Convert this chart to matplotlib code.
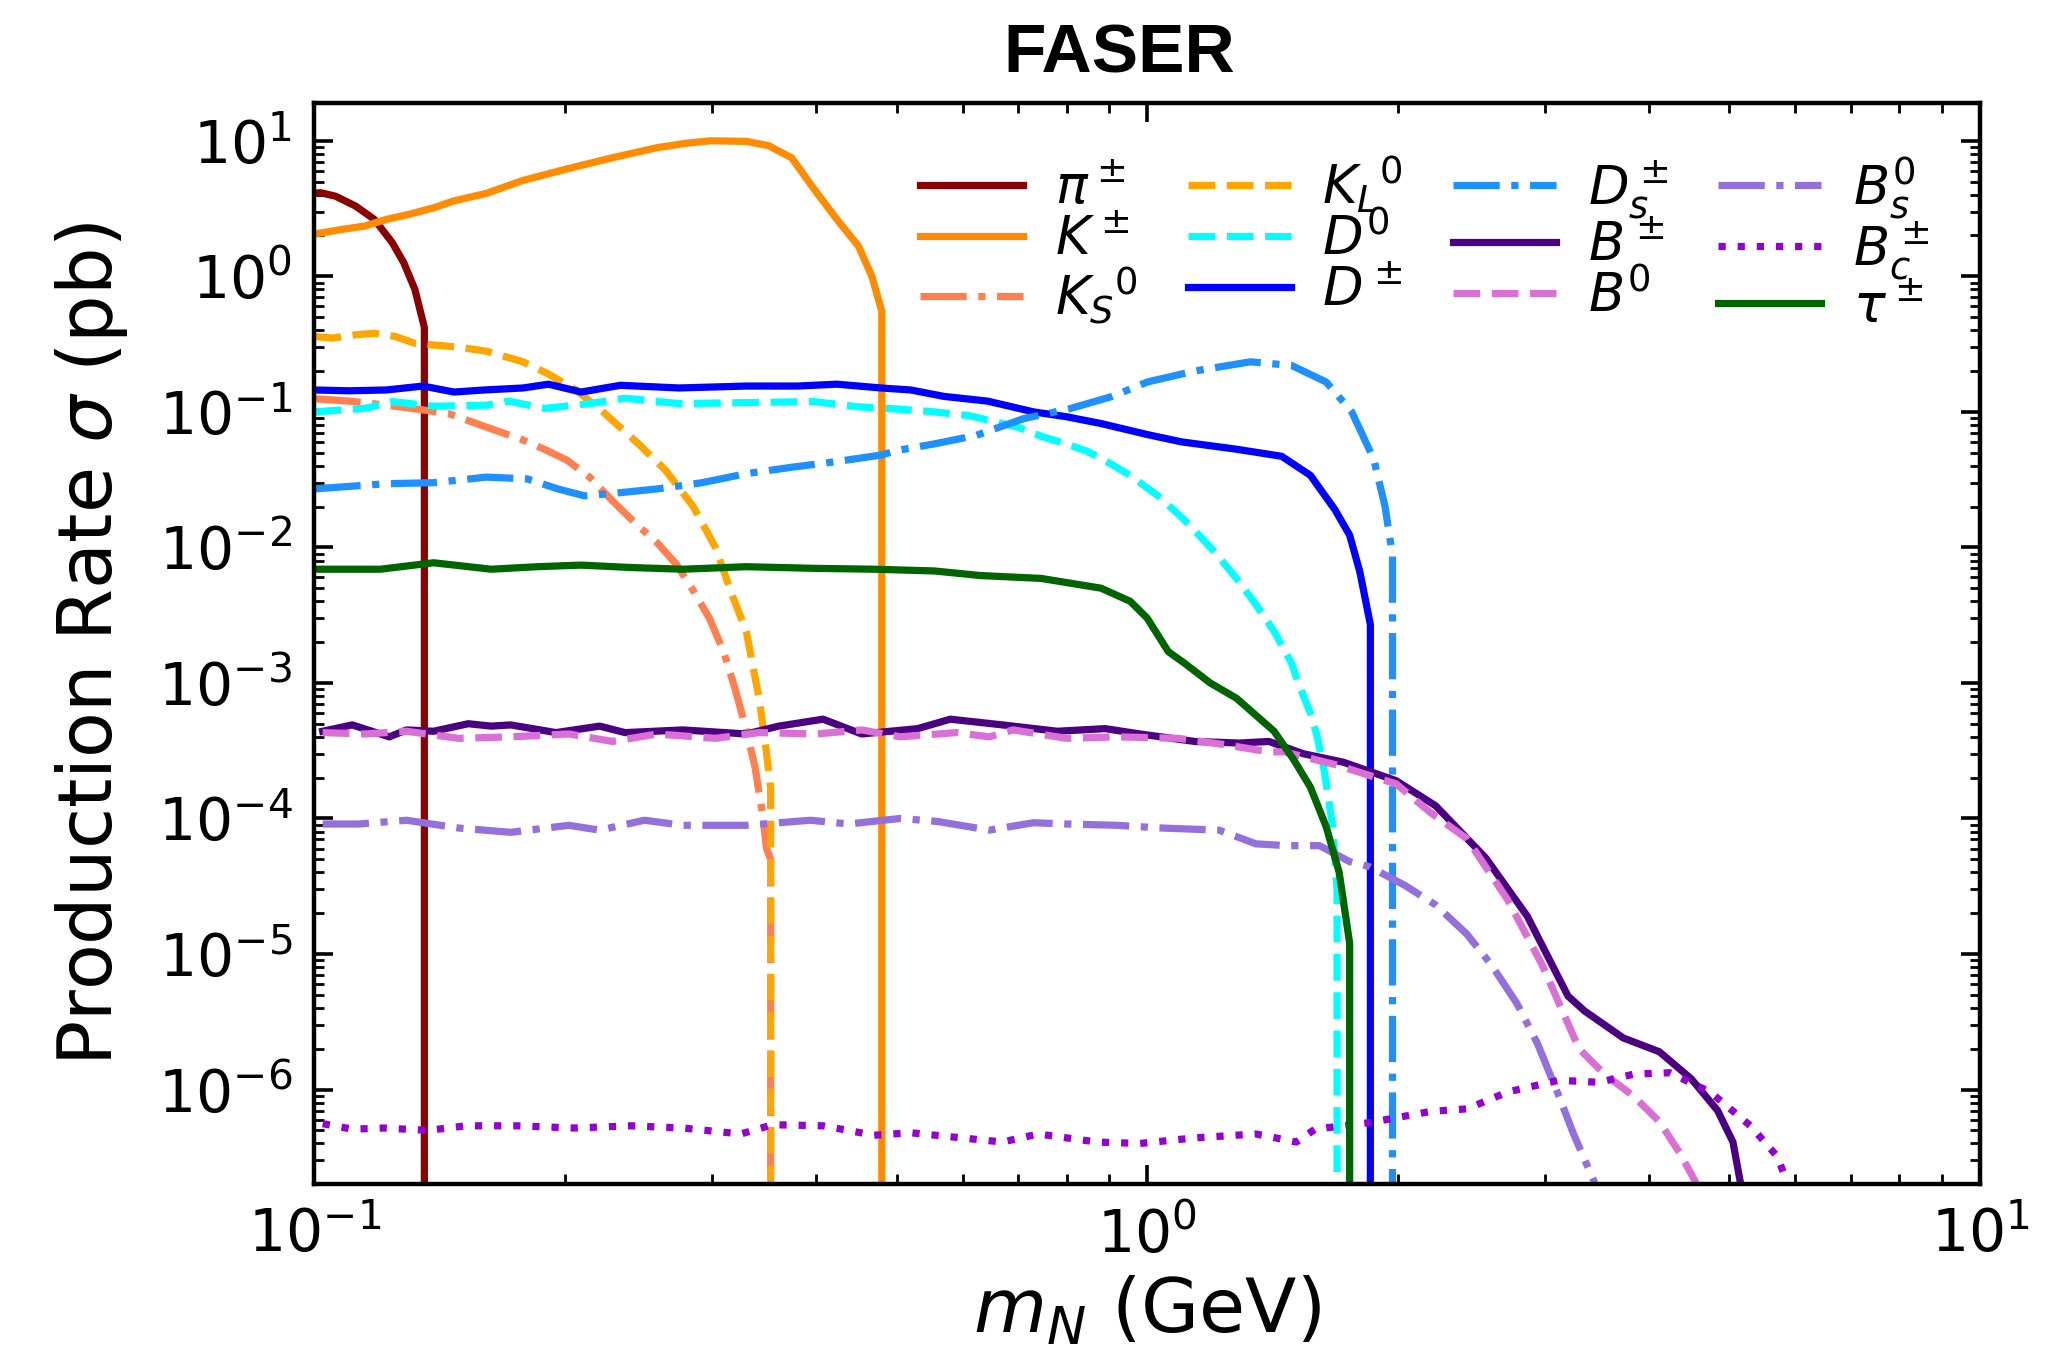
import matplotlib
matplotlib.use("Agg")
import matplotlib.pyplot as plt

# production rate sigma (pb) vs HNL mass m_N (GeV)
# a trailing 1e-9 point makes the vertical drop at the kinematic edge
pi_x = [0.100, 0.1016, 0.106, 0.112, 0.118, 0.124, 0.128, 0.132, 0.1355, 0.1355]
pi_y = [4.1, 4.14, 3.9, 3.3, 2.63, 1.77, 1.26, 0.80, 0.42, 1e-9]

k_x = [0.100, 0.108, 0.115, 0.122, 0.130, 0.139, 0.147, 0.161, 0.178, 0.201, 0.228,
       0.258, 0.280, 0.299, 0.330, 0.351, 0.374, 0.398, 0.424, 0.450, 0.467, 0.480, 0.480]
k_y = [2.05, 2.22, 2.35, 2.63, 2.87, 3.2, 3.6, 4.1, 5.1, 6.2, 7.5,
       8.9, 9.6, 10.0, 9.9, 9.2, 7.5, 4.4, 2.63, 1.67, 1.0, 0.55, 1e-9]

ks_x = [0.100, 0.110, 0.122, 0.134, 0.145, 0.161, 0.178, 0.190, 0.201, 0.214, 0.228, 0.243,
        0.258, 0.272, 0.285, 0.298, 0.310, 0.320, 0.330, 0.338, 0.345, 0.349, 0.353, 0.353]
ks_y = [0.125, 0.120, 0.112, 0.104, 0.097, 0.077, 0.062, 0.052, 0.044, 0.033, 0.022, 0.015,
        0.0108, 0.0075, 0.0048, 0.0030, 0.0017, 9e-4, 4.5e-4, 2.4e-4, 1.1e-4, 6e-5, 5e-5, 1e-9]

kl_x = [0.100, 0.105, 0.112, 0.118, 0.125, 0.132, 0.149, 0.161, 0.178, 0.191, 0.206, 0.222,
        0.245, 0.264, 0.285, 0.303, 0.318, 0.330, 0.342, 0.348, 0.353, 0.353]
kl_y = [0.36, 0.35, 0.37, 0.38, 0.36, 0.32, 0.30, 0.28, 0.234, 0.19, 0.145, 0.10,
        0.058, 0.037, 0.020, 0.010, 0.0043, 0.0024, 7.6e-4, 3.5e-4, 1.66e-4, 1e-9]

d0_x = [0.100, 0.115, 0.124, 0.139, 0.161, 0.171, 0.189, 0.214, 0.236, 0.274, 0.330, 0.398,
        0.450, 0.500, 0.555, 0.610, 0.643, 0.700, 0.746, 0.800, 0.848, 0.900, 0.954, 1.03,
        1.108, 1.20, 1.28, 1.35, 1.42, 1.49, 1.52, 1.57, 1.60, 1.63, 1.67, 1.69, 1.69]
d0_y = [0.100, 0.106, 0.119, 0.110, 0.112, 0.120, 0.106, 0.115, 0.126, 0.115, 0.117, 0.119,
        0.109, 0.105, 0.100, 0.094, 0.087, 0.077, 0.066, 0.058, 0.051, 0.042, 0.034, 0.024,
        0.016, 0.0095, 0.0059, 0.0038, 0.0024, 0.0014, 9.8e-4, 6e-4, 4e-4, 2.3e-4, 8.7e-5, 3e-5, 1e-9]

dpm_x = [0.100, 0.110, 0.122, 0.135, 0.147, 0.160, 0.178, 0.191, 0.209, 0.233, 0.274, 0.330,
         0.380, 0.424, 0.479, 0.520, 0.570, 0.643, 0.730, 0.800, 0.880, 1.00, 1.10, 1.28,
         1.45, 1.57, 1.68, 1.75, 1.80, 1.853, 1.853]
dpm_y = [0.145, 0.143, 0.145, 0.155, 0.140, 0.145, 0.150, 0.160, 0.140, 0.157, 0.150, 0.155,
         0.155, 0.160, 0.150, 0.145, 0.130, 0.120, 0.100, 0.092, 0.082, 0.068, 0.060, 0.053,
         0.047, 0.034, 0.019, 0.0123, 0.0066, 0.0027, 1e-9]

ds_x = [0.100, 0.122, 0.139, 0.161, 0.180, 0.196, 0.211, 0.228, 0.258, 0.292, 0.330, 0.374,
        0.424, 0.479, 0.502, 0.555, 0.623, 0.710, 0.805, 0.908, 1.00, 1.14, 1.33, 1.49,
        1.64, 1.76, 1.87, 1.93, 1.97, 1.97]
ds_y = [0.027, 0.0295, 0.030, 0.033, 0.032, 0.027, 0.024, 0.025, 0.027, 0.030, 0.035, 0.039,
        0.043, 0.048, 0.052, 0.058, 0.067, 0.089, 0.105, 0.130, 0.166, 0.200, 0.234, 0.220,
        0.166, 0.100, 0.045, 0.020, 0.0087, 1e-9]

bpm_x = [0.1023, 0.111, 0.123, 0.129, 0.139, 0.153, 0.163, 0.172, 0.195, 0.220, 0.236, 0.277,
         0.330, 0.361, 0.408, 0.454, 0.530, 0.580, 0.670, 0.780, 0.890, 0.980, 1.14, 1.29,
         1.40, 1.54, 1.72, 1.99, 2.22, 2.55, 2.86, 3.20, 3.35, 3.73, 4.12, 4.50, 4.84,
         5.05, 5.16, 5.25]
bpm_y = [4.4e-4, 4.9e-4, 4.0e-4, 4.5e-4, 4.4e-4, 5.0e-4, 4.8e-4, 4.9e-4, 4.3e-4, 4.8e-4, 4.3e-4, 4.5e-4,
         4.2e-4, 4.8e-4, 5.4e-4, 4.2e-4, 4.6e-4, 5.4e-4, 4.9e-4, 4.4e-4, 4.6e-4, 4.2e-4, 3.7e-4, 3.6e-4,
         3.7e-4, 3.0e-4, 2.6e-4, 1.9e-4, 1.24e-4, 5.1e-5, 1.9e-5, 4.9e-6, 3.8e-6, 2.4e-6, 1.9e-6, 1.2e-6, 7e-7,
         4.1e-7, 2e-7, 1e-7]

b0_x = [0.1023, 0.115, 0.129, 0.149, 0.172, 0.202, 0.228, 0.258, 0.303, 0.342, 0.401, 0.454,
        0.505, 0.590, 0.646, 0.690, 0.800, 0.920, 1.09, 1.24, 1.40, 1.46, 1.68, 1.99, 2.19,
        2.42, 2.71, 2.98, 3.30, 3.54, 3.84, 4.12, 4.36, 4.55, 4.65]
b0_y = [4.3e-4, 4.2e-4, 4.4e-4, 3.9e-4, 4.0e-4, 4.2e-4, 3.7e-4, 4.2e-4, 3.9e-4, 4.3e-4, 4.2e-4, 4.5e-4,
        4.0e-4, 4.3e-4, 4.0e-4, 4.5e-4, 3.9e-4, 4.0e-4, 3.9e-4, 3.5e-4, 3.1e-4, 3.1e-4, 2.5e-4, 1.8e-4, 1.1e-4,
        7.1e-5, 2.5e-5, 8.3e-6, 2e-6, 1.3e-6, 8.9e-7, 5.8e-7, 3.4e-7, 2.1e-7, 1.2e-7]

bs_x = [0.1023, 0.113, 0.129, 0.149, 0.172, 0.202, 0.220, 0.249, 0.277, 0.330, 0.394, 0.438,
        0.505, 0.560, 0.646, 0.730, 0.800, 0.920, 1.04, 1.22, 1.35, 1.47, 1.61, 1.75, 1.85,
        2.04, 2.22, 2.42, 2.59, 2.78, 2.94, 3.12, 3.25, 3.44, 3.50]
bs_y = [9.1e-5, 9.1e-5, 9.7e-5, 8.5e-5, 7.9e-5, 8.9e-5, 8.2e-5, 9.7e-5, 8.9e-5, 8.9e-5, 9.7e-5, 9.1e-5,
        1.0e-4, 9.5e-5, 8.2e-5, 9.3e-5, 9.1e-5, 8.9e-5, 8.5e-5, 8.2e-5, 6.5e-5, 6.3e-5, 6.3e-5, 4.8e-5, 4.4e-5,
        3.2e-5, 2.3e-5, 1.4e-5, 8.3e-6, 4.3e-6, 2.2e-6, 9e-7, 4.7e-7, 2.1e-7, 1.3e-7]

bc_x = [0.1023, 0.111, 0.121, 0.137, 0.152, 0.175, 0.205, 0.240, 0.277, 0.325, 0.355, 0.408,
        0.470, 0.520, 0.670, 0.740, 0.870, 0.980, 1.14, 1.35, 1.51, 1.59, 1.85, 2.19, 2.42,
        2.71, 3.12, 3.49, 3.84, 4.24, 4.74, 5.30, 5.71, 5.86, 5.95]
bc_y = [5.6e-7, 5.1e-7, 5.2e-7, 5.0e-7, 5.4e-7, 5.4e-7, 5.2e-7, 5.4e-7, 5.2e-7, 4.7e-7, 5.5e-7, 5.4e-7,
        4.6e-7, 4.8e-7, 4.1e-7, 4.7e-7, 4.1e-7, 4.0e-7, 4.4e-7, 4.7e-7, 4.1e-7, 5.1e-7, 5.7e-7, 6.9e-7, 7.2e-7,
        9.6e-7, 1.17e-6, 1.13e-6, 1.3e-6, 1.33e-6, 9.6e-7, 5.4e-7, 3.2e-7, 2.1e-7, 1.3e-7]

tau_x = [0.100, 0.120, 0.139, 0.163, 0.185, 0.209, 0.240, 0.277, 0.330, 0.400, 0.470, 0.555,
         0.630, 0.746, 0.800, 0.880, 0.954, 1.00, 1.06, 1.108, 1.19, 1.28, 1.42, 1.50, 1.57,
         1.64, 1.70, 1.75, 1.75]
tau_y = [0.0069, 0.0069, 0.0077, 0.0069, 0.0072, 0.0074, 0.0071, 0.0069, 0.0072, 0.0070, 0.0069, 0.0067,
         0.0062, 0.0059, 0.0055, 0.0050, 0.0040, 0.0030, 0.0017, 0.0014, 0.0010, 7.7e-4, 4.4e-4, 2.7e-4, 1.7e-4,
         8.7e-5, 4e-5, 1.2e-5, 1e-9]

fig = plt.figure(figsize=(10.345, 6.775), dpi=200)
ax = fig.add_axes([0.152, 0.126, 0.805, 0.798])

lw = 2.6
ax.plot(pi_x, pi_y, color="darkred", ls="-", lw=lw, label=r"$\pi^\pm$")
ax.plot(k_x, k_y, color="darkorange", ls="-", lw=lw, label=r"$K^\pm$")
ax.plot(ks_x, ks_y, color="coral", ls="-.", lw=lw, label=r"$K_S{}^0$")
ax.plot(kl_x, kl_y, color="orange", ls="--", lw=lw, label=r"$K_L{}^0$")
ax.plot(d0_x, d0_y, color="cyan", ls="--", lw=lw, label=r"$D^0$")
ax.plot(dpm_x, dpm_y, color="blue", ls="-", lw=lw, label=r"$D^\pm$")
ax.plot(ds_x, ds_y, color="dodgerblue", ls="-.", lw=lw, label=r"$D_s^\pm$")
ax.plot(bpm_x, bpm_y, color="indigo", ls="-", lw=lw, label=r"$B^\pm$")
ax.plot(b0_x, b0_y, color="orchid", ls="--", lw=lw, label=r"$B^0$")
ax.plot(bs_x, bs_y, color="mediumpurple", ls="-.", lw=lw, label=r"$B_s^0$")
ax.plot(bc_x, bc_y, color="darkviolet", ls=":", lw=lw, label=r"$B_c^\pm$")
ax.plot(tau_x, tau_y, color="darkgreen", ls="-", lw=lw, label=r"$\tau^\pm$")

ax.set_xscale("log")
ax.set_yscale("log")
ax.set_xlim(0.1, 10)
ax.set_ylim(2e-7, 19)

ax.tick_params(which="both", direction="in", top=True, right=True, labelsize=21)
ax.tick_params(which="major", length=7, width=1.3, pad=8)
ax.tick_params(which="minor", length=3.5, width=1.0)
for s in ax.spines.values():
    s.set_linewidth(1.6)

ax.set_xlabel(r"$m_N$ (GeV)", fontsize=27)
ax.set_ylabel(r"Production Rate $\sigma$ (pb)", fontsize=27, labelpad=10)
ax.set_title("FASER", fontsize=25, fontweight="bold", family="Liberation Sans", pad=11, x=0.483)

ax.legend(ncol=4, loc="upper right", frameon=False, fontsize=19,
          labelspacing=-0.02, columnspacing=0.95, handlelength=1.95, handletextpad=0.6,
          bbox_to_anchor=(0.998, 0.997))

fig.savefig("out.png", dpi=200)
